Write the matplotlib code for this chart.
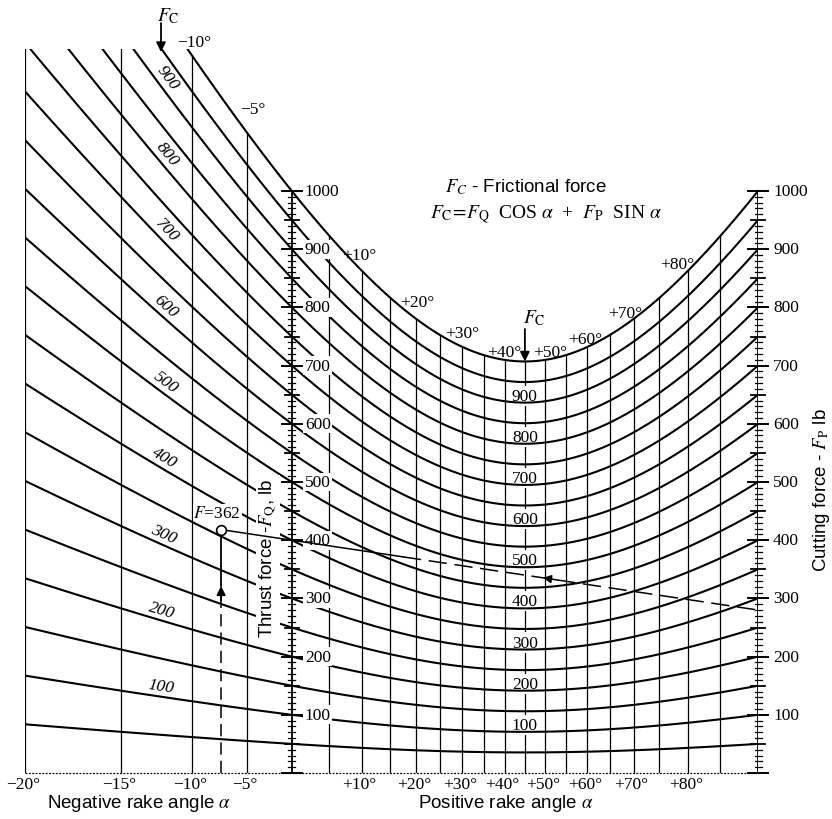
import numpy as np
import matplotlib.pyplot as plt

plt.rcParams['font.family'] = ['Liberation Serif', 'DejaVu Serif']
plt.rcParams['mathtext.fontset'] = 'stix'
SANS = ['Liberation Sans', 'DejaVu Sans']

# --------------------------------
# Chart values
# --------------------------------
fc_levels = [50, 100, 150, 200, 250, 300, 350, 400, 450, 500,
             550, 600, 650, 700, 750, 800, 850, 900, 950, 1000]
fc_labels = [100, 200, 300, 400, 500, 600, 700, 800, 900]
grid_angles = [-20, -15, -10, -5, 5, 10, 15, 20, 25, 30, 35, 40, 45,
               50, 55, 60, 65, 70, 75, 80, 85]
bottom_angles = [-20, -15, -10, -5, 10, 20, 30, 40, 50, 60, 70, 80]
top_angles = [-10, -5, 10, 20, 30, 40, 50, 60, 70, 80]
scale_values = [100, 200, 300, 400, 500, 600, 700, 800, 900, 1000]

# worked example drawn on the chart
ex_alpha = -7.5
ex_fq = 400
ex_fp = 280
ex_fc = 362

# label nudges (pixels) for the angle labels along the top curve
top_label_offsets = [(2, 14), (6, 24), (-2, 16), (1, 17), (0, 14),
                     (0, 8), (5, 8), (-2, 8), (-8, 6), (-11, 7)]


def rake_pos(a):
    # position between the F_Q scale (0) and the F_P scale (1)
    t = np.tan(np.radians(a))
    return t / (1 + t)


def fc_curve(fc, u):
    return fc * np.sqrt((1 - u) ** 2 + u ** 2)


def angle_text(a):
    return ('+' if a > 0 else '\u2212') + str(abs(a)) + '\u00b0'


# --------------------------------
# Figure / axes
# --------------------------------
W, H = 832, 820
x0_px, x1_px = 25, 758
y0_px, y1_px = 774, 50
fig = plt.figure(figsize=(W / 100, H / 100), dpi=100)
ax = fig.add_axes([x0_px / W, (H - y0_px) / H,
                   (x1_px - x0_px) / W, (y0_px - y1_px) / H])
u_left = rake_pos(-20)
y_top = 1244
ax.set_xlim(u_left, 1.0)
ax.set_ylim(0, y_top)
ax.axis('off')

px_u = (x1_px - x0_px) / (1 - u_left)
px_y = (y0_px - y1_px) / y_top


def px2u(px):
    return u_left + (px - x0_px) / px_u


def px2y(py):
    return (y0_px - py) / px_y


# F_C curves
u = np.linspace(u_left, 1, 800)
for fc in fc_levels:
    ax.plot(u, fc_curve(fc, u), color='k', lw=1.5, zorder=2)

# rake angle lines
for a in grid_angles:
    ua = rake_pos(a)
    ax.plot([ua, ua], [0, fc_curve(1000, ua)], color='k', lw=0.9, zorder=1)

# bottom line
ax.plot([u_left, 1], [0, 0], color='k', lw=0.9, ls=(0, (1.5, 1.2)),
        clip_on=False, zorder=3)

# F_Q and F_P scales
for us in [0, 1]:
    ax.plot([us, us], [0, 1000], color='k', lw=1.3, zorder=3)
    for v in range(0, 1001, 10):
        if v % 100 == 0:
            half, lw = 10, 1.4
        elif v % 50 == 0:
            half, lw = 7, 1.3
        else:
            half, lw = 3.5, 0.9
        ax.plot([us - half / px_u, us + half / px_u], [v, v],
                color='k', lw=lw, zorder=3, clip_on=False)

for v in scale_values:
    ax.annotate(str(v), xy=(0, v), xytext=(13, 0), textcoords='offset pixels',
                ha='left', va='center', fontsize=12.5, zorder=4,
                bbox=dict(fc='white', ec='none', pad=1))
    ax.annotate(str(v), xy=(1, v), xytext=(15, 0), textcoords='offset pixels',
                ha='left', va='center', fontsize=12.5,
                annotation_clip=False)

# curve labels on the left (rotated along curve)
u_lab = -0.285
for fc in fc_labels:
    yl = fc_curve(fc, u_lab)
    slope = fc * (2 * u_lab - 1) / np.sqrt((1 - u_lab) ** 2 + u_lab ** 2)
    ang = np.degrees(np.arctan(slope * px_y / px_u))
    th = np.radians(ang)
    off = 2.5
    ax.annotate(str(fc), xy=(u_lab, yl),
                xytext=(-np.sin(th) * off, np.cos(th) * off),
                textcoords='offset pixels', rotation=ang,
                rotation_mode='anchor', ha='center', va='bottom',
                fontsize=12.5, style='italic', zorder=4)

# curve labels in the middle (alpha = 45)
for fc in fc_labels:
    ax.text(0.5, fc_curve(fc, 0.5) + 3 / px_y, str(fc), ha='center',
            va='baseline', fontsize=12.5, zorder=1.5,
            bbox=dict(fc='white', ec='none', pad=1.5))

# angle labels at bottom
for a in bottom_angles:
    ax.annotate(angle_text(a), xy=(rake_pos(a), 0), xytext=(-2, -11),
                textcoords='offset pixels', ha='center', va='center',
                fontsize=12.5, annotation_clip=False)

# angle labels along the top curve
for a, (dx, dy) in zip(top_angles, top_label_offsets):
    ua = rake_pos(a)
    yt = min(fc_curve(1000, ua), y_top)
    ax.annotate(angle_text(a), xy=(ua, yt), xytext=(dx, dy),
                textcoords='offset pixels', ha='center', va='center',
                fontsize=12.5, annotation_clip=False, zorder=4)

# F_C arrows
ax.annotate('', xy=(px2u(161), px2y(53)), xytext=(px2u(161), px2y(24)),
            arrowprops=dict(arrowstyle='-|>', color='k', lw=1.3,
                            mutation_scale=14, shrinkA=0, shrinkB=0),
            annotation_clip=False)
ax.text(px2u(168), px2y(16), r'$F_\mathrm{C}$', ha='center', va='center',
        fontsize=14, clip_on=False)
ax.annotate('', xy=(0.5, fc_curve(1000, 0.5)), xytext=(0.5, px2y(330)),
            arrowprops=dict(arrowstyle='-|>', color='k', lw=1.3,
                            mutation_scale=14, shrinkA=0, shrinkB=0))
ax.text(px2u(534), px2y(318), r'$F_\mathrm{C}$', ha='center', va='center',
        fontsize=14)

# formula
ax.text(px2u(526), px2y(187), r'$F_C$ - Frictional force', ha='center',
        va='center', fontsize=13.5, family=SANS)
ax.text(px2u(546), px2y(215),
        r'$F_\mathrm{C}\!=\!F_\mathrm{Q}$  COS $\alpha$  +  $F_\mathrm{P}$  SIN $\alpha$',
        ha='center', va='center', fontsize=14)

# worked example
ue = rake_pos(ex_alpha)


def ex_line(x):
    return ex_fq + x * (ex_fp - ex_fq)


ye = ex_line(ue)
u_solid = px2u(403)
ax.plot([ue, u_solid], [ye, ex_line(u_solid)], color='k', lw=1.1, zorder=5)
ax.plot([u_solid, 1], [ex_line(u_solid), ex_fp], color='k', lw=1.1,
        dashes=(12, 5), zorder=5)
ua = px2u(557)
ax.annotate('', xy=(ua - 0.03, ex_line(ua - 0.03)), xytext=(ua, ex_line(ua)),
            arrowprops=dict(arrowstyle='-|>', color='k', lw=1.1,
                            mutation_scale=12, shrinkA=0, shrinkB=0),
            zorder=5)
y_arr = px2y(587)
ax.plot([ue, ue], [0, y_arr - 15], color='k', lw=1.1, dashes=(8, 4), zorder=5)
ax.plot([ue, ue], [y_arr, ye], color='k', lw=1.3, zorder=5)
ax.annotate('', xy=(ue, y_arr), xytext=(ue, y_arr - 25),
            arrowprops=dict(arrowstyle='-|>', color='k', lw=1.3,
                            mutation_scale=13, shrinkA=0, shrinkB=0),
            zorder=5)
ax.plot(ue, ye, 'o', ms=7, mfc='white', mec='k', mew=1.2, zorder=6)
ax.annotate(r'$F$=' + str(ex_fc), xy=(ue, ye), xytext=(-4, 17),
            textcoords='offset pixels', ha='center', va='center',
            fontsize=12.5, zorder=5,
            bbox=dict(fc='white', ec='none', pad=0.5))

# axis titles
ax.text(px2u(268), px2y(558), r'Thrust force -$F_\mathrm{Q}$, lb', rotation=90,
        ha='center', va='center', fontsize=13.5, family=SANS, zorder=4,
        bbox=dict(fc='white', ec='none', pad=1.5))
fig.text(821 / W, 1 - 490 / H, r'Cutting force - $F_\mathrm{P}$ lb',
         rotation=90, ha='center', va='center', fontsize=13.5, family=SANS)
fig.text(139 / W, 1 - 804 / H, r'Negative rake angle $\alpha$', ha='center',
         va='center', fontsize=13.5, family=SANS)
fig.text(506 / W, 1 - 804 / H, r'Positive rake angle $\alpha$', ha='center',
         va='center', fontsize=13.5, family=SANS)

fig.savefig('out.png', dpi=100)
